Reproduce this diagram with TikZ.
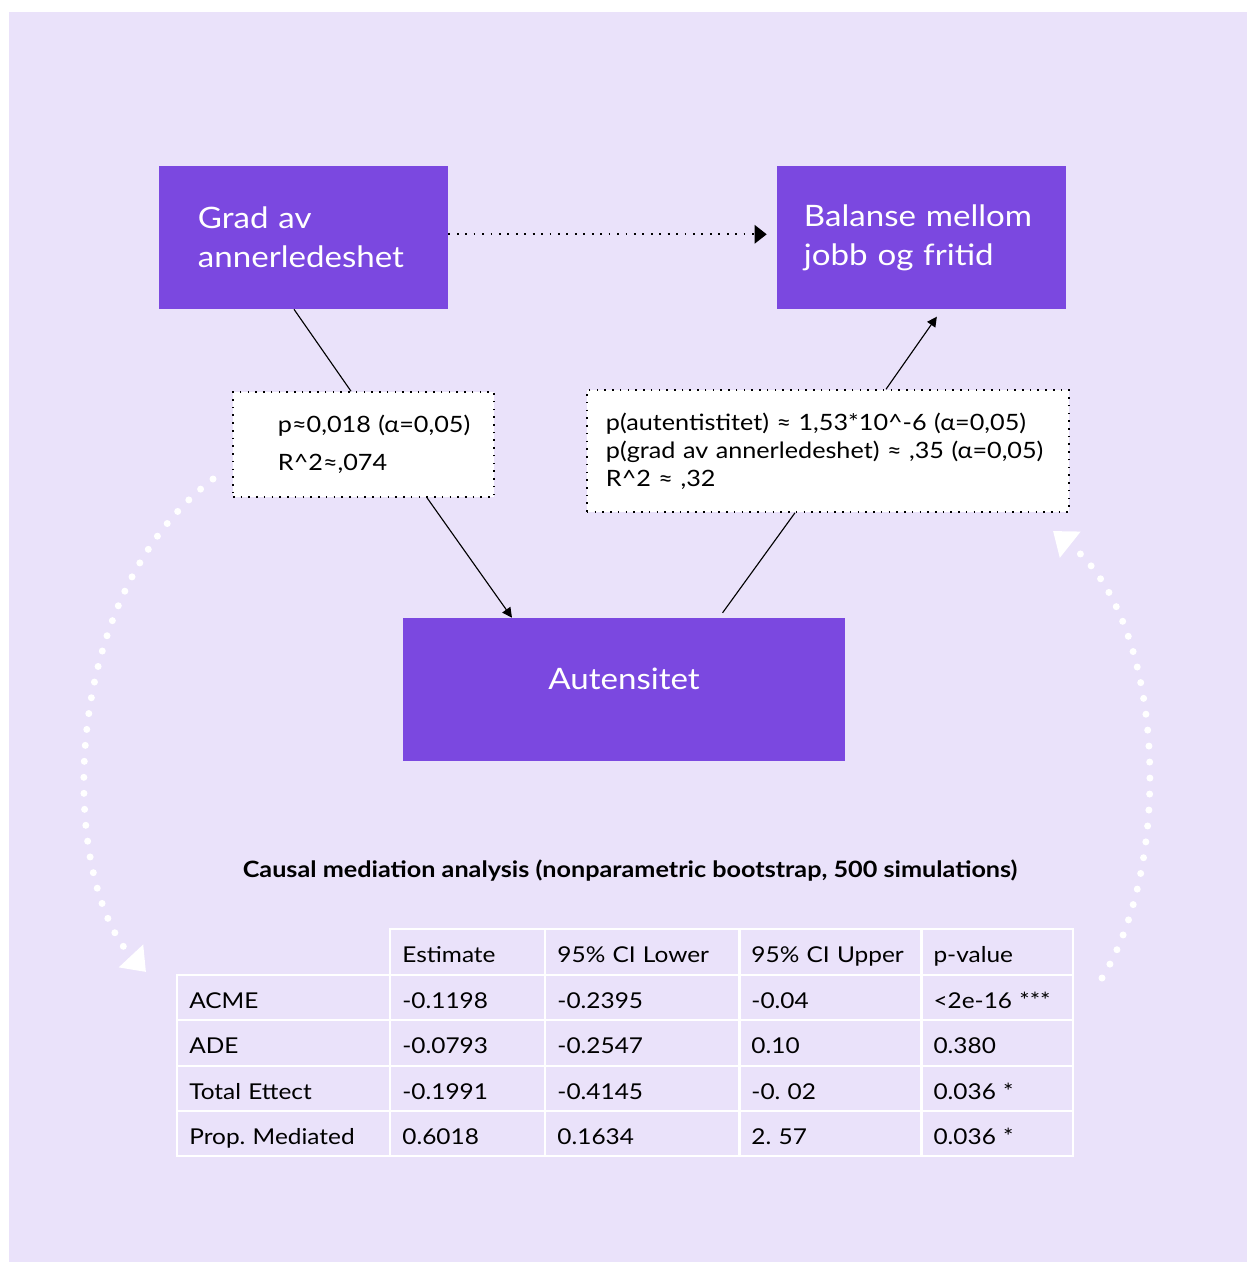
\documentclass[tikz,border=0pt]{standalone}
\usepackage{fontspec}
\setmainfont{Lato}[FakeStretch=1.12]
\usetikzlibrary{matrix,positioning,arrows.meta,calc}
\definecolor{lavendel}{HTML}{EAE2FA}
\definecolor{lilla}{HTML}{7B48E0}
\frenchspacing
\tikzset{
  varbox/.style={fill=lilla, text=white, minimum width=7.225cm, minimum height=3.575cm,
    align=left, font=\fontsize{21}{27.7}\selectfont},
  merkelapp/.style={fill=white, draw=black, line width=1.1pt, dash pattern=on 1.1pt off 4.4pt,
    align=left},
  kobling/.style={draw=black, line width=0.8pt},
  pil/.style={-{Triangle[length=7pt,width=7pt]}},
  bue/.style={draw=white, line width=0.175cm, line cap=round, dash pattern=on 0pt off 0.4cm,
    -{Triangle[length=0.55cm,width=0.8cm]}},
}
\begin{document}
\begin{tikzpicture}[x=0.025cm, y=-0.025cm, font=\fontsize{15.5}{19}\selectfont]
  \useasboundingbox (0,0) rectangle (1247,1262);
  \fill[white] (0,0) rectangle (1247,1262);
  \fill[lavendel] (9,12) rectangle (1247,1262);

  % variabler
  \node[varbox, text width=5.275cm, inner xsep=0.975cm] (grad) at (303.5,237.5) {Grad av\\annerledeshet};
  \node[varbox, text width=5.875cm, inner xsep=0.675cm] (balanse) at (921.5,237.5) {Balanse mellom\\jobb og fritid};
  \node[varbox, minimum width=11.05cm, align=center, text height=0.5cm, text depth=0.5cm] (aut) at (624,689.5) {Autensitet};

  % regresjoner
  \node[merkelapp, text width=4.275cm, inner xsep=1.125cm, minimum height=2.625cm,
    font=\fontsize{16}{27}\selectfont] (lblA) at (363.5,444.5)
    {\mbox{p≈0,018 (α=0,05)}\\R\textasciicircum2≈,074};
  \node[merkelapp, text width=11.1cm, inner xsep=0.475cm, minimum height=3.05cm,
    font=\fontsize{16}{20}\selectfont] (lblB) at (828,451)
    {\mbox{p(autentistitet) ≈ 1,53*10\textasciicircum-6 (α=0,05)}\\
     \mbox{p(grad av annerledeshet) ≈ ,35 (α=0,05)}\\
     R\textasciicircum2 ≈ ,32};

  \draw[kobling, line width=1.3pt, dash pattern=on 1.3pt off 4.7pt, shorten >=0.25cm,
    -{Triangle[length=8.5pt,width=13pt]}] ([yshift=0.08cm]grad.east) -- ([yshift=0.08cm]balanse.west);
  \draw[kobling] ([xshift=-0.2375cm]grad.south) -- ([xshift=-0.3125cm]lblA.north);
  \draw[kobling, pil] ([xshift=1.5875cm]lblA.south) -- ([xshift=-2.8cm]aut.north);
  \draw[kobling, shorten <=0.15cm] ([xshift=2.375cm]aut.north) -- ([xshift=-0.825cm]lblB.south);
  \draw[kobling, pil, shorten >=0.225cm] ([xshift=1.45cm]lblB.north) -- ([xshift=0.5125cm]balanse.south);

  % mediasjonsanalyse
  \node[font=\fontsize{16}{19}\selectfont\bfseries] (tittel) at (630,871)
    {Causal mediation analysis (nonparametric bootstrap, 500 simulations)};
  \matrix (tab) [matrix of nodes, anchor=north west, inner sep=0pt,
    column sep=-1.5pt, row sep=-1.5pt,
    nodes={draw=white, line width=1.5pt, minimum height=1.135cm, inner xsep=0.3cm,
      text height=15.5pt, text depth=0pt, align=left},
    column 1/.style={nodes={text width=4.725cm}},
    column 2/.style={nodes={text width=3.275cm}},
    column 3/.style={nodes={text width=4.25cm}},
    column 4/.style={nodes={text width=3.95cm}},
    column 5/.style={nodes={text width=3.175cm}}] at (176,928) {
                   & Estimate & 95\% CI Lower & 95\% CI Upper & p-value \\
    ACME           & -0.1198  & -0.2395       & -0.04         & <2e-16 *** \\
    ADE            & -0.0793  & -0.2547       & 0.10          & 0.380 \\
    Total Ettect   & -0.1991  & -0.4145       & -0. 02        & 0.036 * \\
    Prop. Mediated & 0.6018   & 0.1634        & 2. 57         & 0.036 * \\
  };

  % buer
  \coordinate (buestartV) at (213,479);
  \coordinate (buesluttV) at (146,972);
  \draw[bue] (buestartV) .. controls (55,600) and (60,880) .. (buesluttV);
  \coordinate (buestartH) at (1102,978);
  \coordinate (buesluttH) at (1053,531);
  \draw[bue] (buestartH) .. controls (1175,860) and (1165,620) .. (buesluttH);
\end{tikzpicture}
\end{document}
